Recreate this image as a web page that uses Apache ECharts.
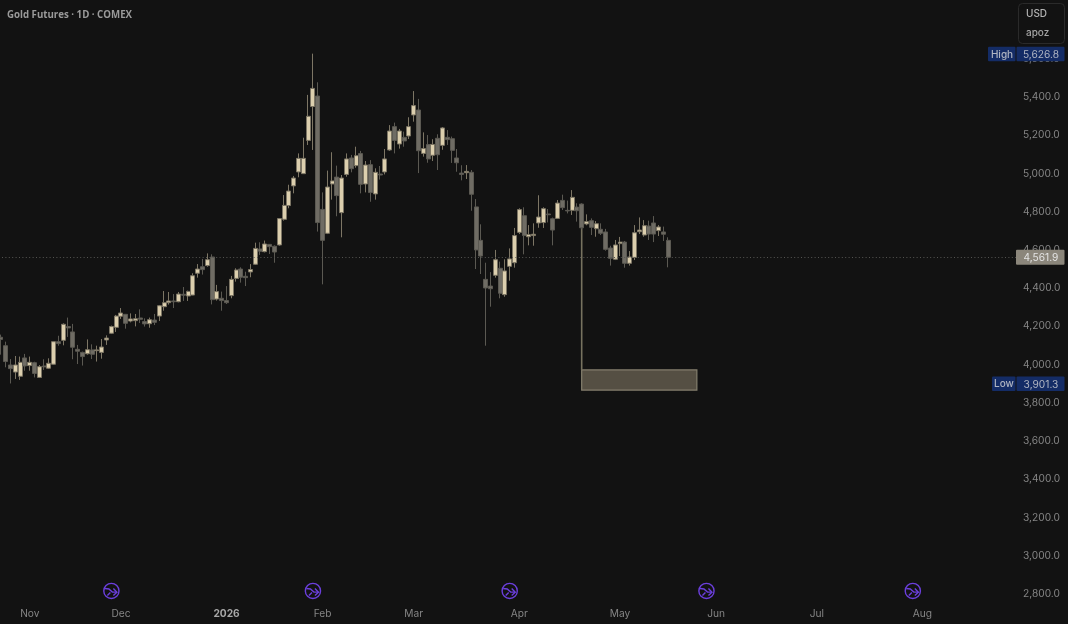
<!DOCTYPE html>
<html>
<head>
<meta charset="utf-8">
<style>html,body{margin:0;padding:0;background:#121212;overflow:hidden}#c{width:1070px;height:624px;margin-left:-2px}</style>
<script src="https://cdn.jsdelivr.net/npm/echarts@6/dist/echarts.min.js"></script>
</head>
<body>
<div id="c"></div>
<script>
const opens = [4143,4099,3998,3961,3939,4035,3995,4010,3933,3993,3981,4002,4120,4127,4199,4171,4080,4064,4057,4077,4073,4064,4129,4164,4195,4253,4263,4228,4230,4244,4225,4214,4233,4254,4303,4324,4333,4329,4368,4359,4364,4478,4512,4518,4563,4343,4347,4335,
4361,4451,4500,4462,4485,4525,4605,4591,4629,4619,4626,4760,4832,4935,5008,4999,5173,5350,5405,4812,4687,4945,4981,4795,4995,5081,5041,5104,4945,5046,4893,4997,5008,5123,5245,5154,5189,5196,5306,5332,5105,5151,5095,5184,5147,5189,5182,5081,5002,5004,5006,4825,4650,4446,4411,4467,4504,
4366,4514,4533,4692,4779,4669,4675,4741,4743,4788,4763,4765,4859,4807,4807,4824,4840,4736,4753,4711,4708,4694,4610,4551,4633,4641,4530,4561,4695,4678,4725,4741,4701,4694,4650];
const closes = [4132,4016,3979,3998,4012,3993,4012,3954,3989,3988,4007,4120,4110,4211,4192,4091,4070,4042,4078,4054,4077,4092,4139,4199,4254,4270,4216,4239,4240,4237,4213,4235,4221,4308,4324,4333,4329,4369,4363,4383,4465,4500,4497,4549,4340,4382,4335,4324,
4446,4495,4457,4455,4497,4608,4593,4631,4617,4589,4764,4833,4908,4976,5079,5079,5299,5445,4743,4650,4929,4961,4884,4976,5076,5025,5093,4943,5044,4900,5006,4992,5076,5222,5173,5222,5170,5245,5355,5119,5130,5076,5152,5098,5238,5177,5121,5056,4995,5011,4891,4600,4568,4401,4397,4549,4373,
4490,4553,4675,4811,4675,4680,4682,4772,4816,4784,4704,4845,4821,4804,4875,4805,4716,4748,4718,4737,4687,4603,4556,4626,4641,4530,4563,4690,4704,4727,4683,4683,4720,4682,4561.9];
const lows = [4052,3986,3901.3,3925,3920,3968,3968,3933,3930,3972,3977,4000,4099,4101,4145,4028,4003,3995,4052,4029,4016,4031,4103,4160,4171,4239,4188,4221,4200,4218,4199,4193,4207,4228,4282,4314,4296,4326,4333,4333,4363,4455,4471,4512,4315,4335,4282,4317,
4347,4434,4429,4411,4457,4521,4574,4587,4579,4533,4622,4753,4818,4896,4980,4997,5149,5123,4696,4420,4683,4863,4776,4666,4983,5006,5030,4896,4901,4852,4863,4968,4995,5118,5105,5130,5140,5180,5271,5002,5088,5056,5065,5018,5124,5149,5055,5009,4964,4971,4805,4500,4474,4099,4303,4455,4347,
4355,4439,4507,4683,4577,4624,4622,4716,4715,4744,4624,4763,4809,4791,4783,4748,4708,4729,4678,4669,4678,4596,4518,4547,4568,4507,4518,4547,4683,4669,4652,4641,4673,4647,4509];
const highs = [4157,4120,4029,4045,4042,4056,4042,4015,3998,4028,4033,4120,4151,4216,4246,4213,4103,4068,4132,4106,4099,4134,4153,4204,4260,4296,4265,4268,4265,4289,4242,4246,4265,4312,4385,4380,4369,4380,4406,4387,4478,4526,4553,4582,4577,4417,4382,4411,
4464,4504,4509,4486,4526,4638,4640,4649,4631,4624,4765,4887,4941,4987,5105,5187,5411,5626.8,5477,4901,5015,5111,5041,4992,5105,5097,5140,5118,5065,5070,5027,5039,5128,5253,5266,5233,5219,5294,5431,5390,5215,5201,5179,5205,5243,5227,5193,5128,5043,5044,5018,4866,4734,4533,4484,4600,4539,
4551,4608,4715,4818,4823,4730,4739,4886,4823,4814,4769,4861,4889,4858,4913,4844,4844,4786,4765,4751,4739,4710,4622,4652,4668,4647,4594,4730,4770,4756,4753,4777,4730,4722,4666];
const totalBars = 212;
const monthTicks = {6:'Nov',25:'Dec',47:'2026',67:'Feb',86:'Mar',108:'Apr',129:'May',149:'Jun',170:'Jul',192:'Aug'};
const priceMin = 2800, priceMax = 5800, priceStep = 200;
const lastPrice = 4561.9, highPrice = 5626.8, lowPrice = 3901.3;
const iconBars = [23,65,106,147,190];
const iconPrice = 2816;
const boxStartBar = 121, boxEndBar = 145, boxTop = 3972, boxBottom = 3867, stemTop = 4716;
const badges = [['High',highPrice],['Low',lowPrice]];

const categories = Array.from({length: totalBars}, (_, i) => monthTicks[i] || '');
const candleData = opens.map((o, i) => [o, closes[i], lows[i], highs[i]]);
const UI = 'Inter, "Noto Sans", sans-serif';
const fmt = v => v.toLocaleString('en-US', {minimumFractionDigits: 1, maximumFractionDigits: 1});

const chart = echarts.init(document.getElementById('c'), null, {renderer: 'canvas'});
chart.setOption({
  animation: false,
  backgroundColor: '#121212',
  title: {
    text: 'Gold Futures · 1D · COMEX', left: 4, top: 5,
    textStyle: {color: '#9a9a9a', fontFamily: '"Open Sans", sans-serif', fontSize: 9.7, fontWeight: 700}
  },
  grid: {left: 0, right: 52, top: 20.54, bottom: 30, containLabel: false},
  xAxis: {
    type: 'category', data: categories, boundaryGap: true,
    axisLine: {show: false}, axisTick: {show: false}, splitLine: {show: false},
    axisLabel: {
      interval: 0, hideOverlap: false, margin: 15, color: '#858585', fontFamily: UI, fontSize: 10.2,
      formatter: v => v === '2026' ? '{b|2026}' : v,
      rich: {b: {fontWeight: 700, color: '#a8a8a8', fontFamily: UI, fontSize: 10.2}}
    }
  },
  yAxis: {
    type: 'value', position: 'right', min: priceMin, max: priceMax, interval: priceStep,
    splitLine: {show: false}, axisLine: {show: false}, axisTick: {show: false},
    axisLabel: {
      showMaxLabel: false, margin: 7, color: '#858585', fontFamily: UI, fontSize: 10.2, padding: [3, 0, 0, 0],
      formatter: fmt
    }
  },
  series: [
    {
      type: 'custom', name: 'position', z: 1, clip: false,
      data: [[boxStartBar, boxTop, boxEndBar, boxBottom, stemTop]],
      encode: {x: [0, 2], y: [1, 3, 4]},
      renderItem(params, api) {
        const a = api.coord([api.value(0), api.value(1)]);
        const b = api.coord([api.value(2), api.value(3)]);
        const s = api.coord([api.value(0), api.value(4)]);
        return {type: 'group', children: [
          {type: 'rect', shape: {x: a[0], y: a[1], width: b[0] - a[0], height: b[1] - a[1]},
           style: {fill: '#554f43', stroke: '#857f6e', lineWidth: 1.2}},
          {type: 'line', shape: {x1: a[0], y1: s[1], x2: a[0], y2: a[1]},
           style: {stroke: '#77725f', lineWidth: 1.6}}
        ]};
      }
    },
    {
      type: 'candlestick', name: 'Gold', data: candleData, barWidth: 4.5, z: 3, clip: false,
      itemStyle: {
        color: '#dccfae', color0: '#6f6c64',
        borderColor: '#7d7665', borderColor0: '#5b5952', borderWidth: 1
      },
      markLine: {
        silent: true, symbol: 'none', animation: false,
        label: {show: false},
        lineStyle: {color: '#565653', type: [1, 2.4], width: 1},
        data: [{yAxis: lastPrice}]
      }
    },
    {
      type: 'custom', name: 'events', z: 5, clip: false,
      data: iconBars.map(b => [b, iconPrice]),
      encode: {x: 0, y: 1},
      renderItem(params, api) {
        const p = api.coord([api.value(0), api.value(1)]);
        const st = {stroke: '#6b3fdc', lineWidth: 1.4, fill: null};
        return {type: 'group', x: p[0], y: p[1], children: [
          {type: 'circle', shape: {cx: 0, cy: 0, r: 7.6}, style: st},
          {type: 'polyline', shape: {points: [[-6.5,-2.5],[-2.5,-2],[1,1.2],[5.5,1.2]]}, style: st},
          {type: 'polyline', shape: {points: [[2,-2.4],[5.5,1.2],[2,4.6]]}, style: st},
          {type: 'line', shape: {x1: -4, y1: 4.6, x2: -1, y2: 1.6}, style: st}
        ]};
      }
    },
    {
      type: 'custom', name: 'extremes', z: 10, clip: false,
      data: badges.map(b => [0, b[1]]),
      encode: {y: 1},
      renderItem(params, api) {
        const y = api.coord([0, api.value(1)])[1];
        const c = params.coordSys;
        const right = c.x + c.width;
        const name = badges[params.dataIndex][0];
        const w = name === 'High' ? 28 : 24;
        return {type: 'group', children: [
          {type: 'rect', shape: {x: right - w, y: y - 7, width: w - 0.5, height: 14.5, r: 1}, style: {fill: '#142c66'}},
          {type: 'rect', shape: {x: right + 0.5, y: y - 7, width: 48, height: 14.5, r: 1}, style: {fill: '#142c66'}},
          {type: 'text', style: {x: right - w / 2, y: y + 1, text: name, fill: '#b0b5c2', font: '500 10px ' + UI, align: 'center', verticalAlign: 'middle'}},
          {type: 'text', style: {x: right + 25, y: y + 1, text: fmt(api.value(1)), fill: '#b0b5c2', font: '10.2px ' + UI, align: 'center', verticalAlign: 'middle'}}
        ]};
      }
    },
    {
      type: 'custom', name: 'last', z: 10, clip: false,
      data: [[0, lastPrice]],
      encode: {y: 1},
      renderItem(params, api) {
        const y = api.coord([0, api.value(1)])[1];
        const c = params.coordSys;
        const right = c.x + c.width;
        return {type: 'group', children: [
          {type: 'rect', shape: {x: right, y: y - 7.5, width: 48.5, height: 15, r: 1}, style: {fill: '#8b867b'}},
          {type: 'text', style: {x: right + 25, y: y + 1, text: fmt(api.value(1)), fill: '#e4e4e4', font: '10.2px ' + UI, align: 'center', verticalAlign: 'middle'}}
        ]};
      }
    }
  ],
  graphic: [
    {type: 'rect', z: 20, shape: {x: 1020.5, y: 3.5, width: 46, height: 40, r: 4},
     style: {fill: '#121212', stroke: '#2a2a2a', lineWidth: 1}},
    {type: 'text', z: 21, style: {x: 1028, y: 14, text: 'USD', fill: '#b5b5b5', font: '500 10px ' + UI, verticalAlign: 'middle'}},
    {type: 'text', z: 21, style: {x: 1028, y: 33, text: 'apoz', fill: '#a5a5a5', font: '500 10px ' + UI, verticalAlign: 'middle'}}
  ]
});
</script>
</body>
</html>
